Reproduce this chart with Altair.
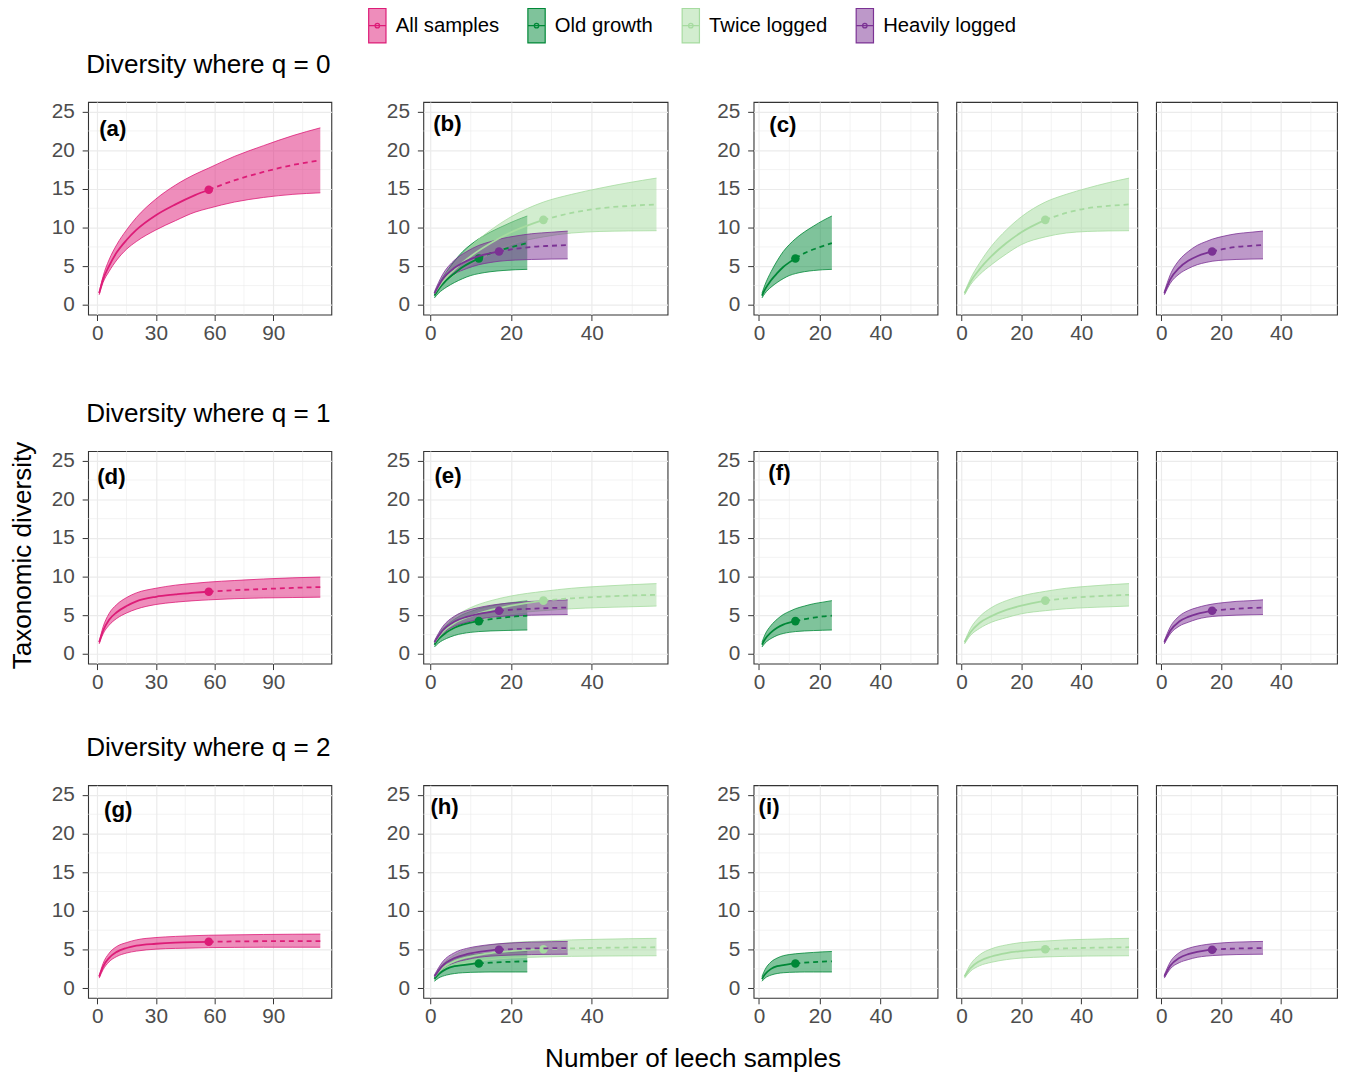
import altair as alt
import pandas as pd

FONT = "Liberation Sans"

GROUPS = ["All samples", "Old growth", "Twice logged", "Heavily logged"]
LINE_COLORS = ["#DD1C77", "#008837", "#A6DBA0", "#7B3294"]
FILL_COLORS = ["rgba(221,28,119,0.5)", "rgba(0,136,55,0.5)",
               "rgba(166,219,160,0.5)", "rgba(123,50,148,0.5)"]

ROW_TITLES = ["Diversity where q = 0", "Diversity where q = 1", "Diversity where q = 2"]
PANEL_LABELS = [["(a)", "(b)", "(c)"], ["(d)", "(e)", "(f)"], ["(g)", "(h)", "(i)"]]
LABEL_X = [[1.0, 0.7, 3.4], [0.0, 1.0, 3.1], [3.5, 0.0, -0.1]]
LABEL_Y = [[22.7, 23.4, 23.3], [22.9, 23.0, 23.4], [23.0, 23.4, 23.4]]

Y_DOMAIN = [-1.25, 26.25]
Y_TICKS = [0, 5, 10, 15, 20, 25]
Y_MINOR = [2.5, 7.5, 12.5, 17.5, 22.5]
X_DOMAIN_ALL = [-4.65, 119.65]
X_TICKS_ALL = [0, 30, 60, 90]
X_MINOR_ALL = [15, 45, 75, 105]
X_DOMAIN_HAB = [-1.75, 58.75]
X_TICKS_HAB = [0, 20, 40]
X_MINOR_HAB = [10, 30, 50]

# ---- All samples (observed at n = 57, extrapolated to 114)
ALL_N = 57
ALL_X = [1, 3, 6, 10, 15, 20, 30, 40, 50, 57, 70, 85, 100, 114]
ALL_Q0_MEAN = [1.5, 3.3, 5.0, 6.8, 8.4, 9.7, 11.6, 13.0, 14.2, 14.9, 16.1, 17.2, 18.1, 18.7]
ALL_Q0_HI = [1.6, 3.7, 5.8, 7.8, 9.7, 11.3, 13.7, 15.5, 16.9, 17.7, 19.2, 20.6, 21.9, 22.9]
ALL_Q0_LO = [1.3, 2.9, 4.3, 5.8, 7.2, 8.2, 9.7, 10.9, 12.0, 12.5, 13.3, 13.9, 14.3, 14.5]
ALL_Q1_MEAN = [1.5, 3.0, 4.4, 5.4, 6.2, 6.8, 7.4, 7.7, 7.95, 8.05, 8.25, 8.4, 8.55, 8.65]
ALL_Q1_HI = [1.6, 3.5, 5.2, 6.4, 7.3, 7.9, 8.5, 8.9, 9.15, 9.3, 9.5, 9.7, 9.85, 9.95]
ALL_Q1_LO = [1.3, 2.6, 3.7, 4.6, 5.3, 5.8, 6.4, 6.7, 6.9, 7.0, 7.15, 7.25, 7.3, 7.35]
ALL_Q2_MEAN = [1.5, 2.8, 3.9, 4.7, 5.2, 5.5, 5.75, 5.9, 5.97, 6.0, 6.05, 6.08, 6.1, 6.1]
ALL_Q2_HI = [1.6, 3.2, 4.5, 5.4, 5.9, 6.25, 6.55, 6.7, 6.8, 6.85, 6.9, 6.95, 6.98, 7.0]
ALL_Q2_LO = [1.3, 2.4, 3.4, 4.1, 4.55, 4.8, 5.05, 5.15, 5.2, 5.25, 5.28, 5.3, 5.3, 5.3]

# ---- Old growth (n = 12, to 24)
OG_N = 12
OG_X = [1, 2, 4, 6, 8, 10, 12, 15, 18, 21, 24]
OG_Q0_MEAN = [1.2, 2.0, 3.2, 4.1, 4.9, 5.5, 6.0, 6.7, 7.2, 7.6, 8.0]
OG_Q0_HI = [1.5, 2.6, 4.3, 5.7, 6.9, 7.8, 8.55, 9.45, 10.2, 10.9, 11.5]
OG_Q0_LO = [0.9, 1.5, 2.3, 2.9, 3.4, 3.8, 4.05, 4.3, 4.45, 4.55, 4.6]
OG_Q1_MEAN = [1.2, 1.9, 2.8, 3.4, 3.8, 4.05, 4.25, 4.5, 4.7, 4.85, 4.95]
OG_Q1_HI = [1.5, 2.5, 3.7, 4.5, 5.1, 5.5, 5.85, 6.2, 6.5, 6.7, 6.9]
OG_Q1_LO = [0.9, 1.4, 2.0, 2.4, 2.65, 2.8, 2.9, 2.98, 3.03, 3.07, 3.1]
OG_Q2_MEAN = [1.2, 1.8, 2.5, 2.85, 3.0, 3.12, 3.2, 3.3, 3.38, 3.44, 3.48]
OG_Q2_HI = [1.5, 2.4, 3.4, 3.9, 4.2, 4.35, 4.45, 4.55, 4.63, 4.7, 4.75]
OG_Q2_LO = [0.9, 1.3, 1.7, 1.9, 2.0, 2.05, 2.08, 2.1, 2.1, 2.1, 2.1]

# ---- Twice logged (n = 28, to 56)
TW_N = 28
TW_X = [1, 3, 6, 10, 15, 20, 28, 35, 42, 49, 56]
TW_Q0_MEAN = [1.5, 3.0, 4.6, 6.3, 8.0, 9.4, 11.0, 11.9, 12.5, 12.8, 13.0]
TW_Q0_HI = [1.6, 3.4, 5.4, 7.6, 9.7, 11.4, 13.3, 14.3, 15.1, 15.8, 16.4]
TW_Q0_LO = [1.3, 2.6, 3.9, 5.2, 6.6, 7.8, 8.8, 9.3, 9.5, 9.57, 9.6]
TW_Q1_MEAN = [1.5, 2.8, 4.0, 4.9, 5.7, 6.25, 6.9, 7.2, 7.4, 7.55, 7.65]
TW_Q1_HI = [1.6, 3.3, 4.8, 6.0, 6.9, 7.5, 8.1, 8.5, 8.75, 8.95, 9.1]
TW_Q1_LO = [1.3, 2.4, 3.3, 4.1, 4.7, 5.2, 5.6, 5.85, 6.0, 6.1, 6.2]
TW_Q2_MEAN = [1.5, 2.6, 3.5, 4.1, 4.55, 4.8, 5.05, 5.15, 5.22, 5.27, 5.3]
TW_Q2_HI = [1.6, 3.1, 4.3, 5.1, 5.6, 5.9, 6.1, 6.25, 6.33, 6.4, 6.45]
TW_Q2_LO = [1.3, 2.2, 2.9, 3.35, 3.7, 3.9, 4.05, 4.12, 4.16, 4.18, 4.2]

# ---- Heavily logged (n = 17, to 34)
HL_N = 17
HL_X = [1, 3, 6, 9, 12, 15, 17, 21, 25, 30, 34]
HL_Q0_MEAN = [1.5, 3.3, 4.8, 5.7, 6.3, 6.7, 6.9, 7.25, 7.5, 7.65, 7.75]
HL_Q0_HI = [1.7, 3.9, 5.8, 6.9, 7.7, 8.2, 8.5, 8.9, 9.2, 9.4, 9.55]
HL_Q0_LO = [1.3, 2.8, 4.0, 4.7, 5.2, 5.5, 5.65, 5.8, 5.88, 5.93, 5.95]
HL_Q1_MEAN = [1.5, 3.0, 4.2, 4.8, 5.2, 5.45, 5.6, 5.75, 5.85, 5.95, 6.0]
HL_Q1_HI = [1.7, 3.5, 4.9, 5.6, 6.0, 6.3, 6.45, 6.65, 6.8, 6.9, 7.0]
HL_Q1_LO = [1.3, 2.6, 3.6, 4.1, 4.5, 4.75, 4.85, 4.95, 5.02, 5.07, 5.1]
HL_Q2_MEAN = [1.5, 2.9, 3.9, 4.4, 4.7, 4.9, 4.98, 5.07, 5.13, 5.17, 5.2]
HL_Q2_HI = [1.7, 3.4, 4.6, 5.15, 5.45, 5.65, 5.75, 5.88, 5.96, 6.02, 6.05]
HL_Q2_LO = [1.3, 2.5, 3.3, 3.7, 4.0, 4.15, 4.22, 4.3, 4.35, 4.38, 4.4]

SERIES = {
    "All samples": (ALL_X, ALL_N, [(ALL_Q0_MEAN, ALL_Q0_LO, ALL_Q0_HI),
                                   (ALL_Q1_MEAN, ALL_Q1_LO, ALL_Q1_HI),
                                   (ALL_Q2_MEAN, ALL_Q2_LO, ALL_Q2_HI)]),
    "Old growth": (OG_X, OG_N, [(OG_Q0_MEAN, OG_Q0_LO, OG_Q0_HI),
                                (OG_Q1_MEAN, OG_Q1_LO, OG_Q1_HI),
                                (OG_Q2_MEAN, OG_Q2_LO, OG_Q2_HI)]),
    "Twice logged": (TW_X, TW_N, [(TW_Q0_MEAN, TW_Q0_LO, TW_Q0_HI),
                                  (TW_Q1_MEAN, TW_Q1_LO, TW_Q1_HI),
                                  (TW_Q2_MEAN, TW_Q2_LO, TW_Q2_HI)]),
    "Heavily logged": (HL_X, HL_N, [(HL_Q0_MEAN, HL_Q0_LO, HL_Q0_HI),
                                    (HL_Q1_MEAN, HL_Q1_LO, HL_Q1_HI),
                                    (HL_Q2_MEAN, HL_Q2_LO, HL_Q2_HI)]),
}

band_rows, line_rows, pt_rows = [], [], []
for g, (xs, n, qs) in SERIES.items():
    for q, (m, lo, hi) in enumerate(qs):
        for x, mv, l, h in zip(xs, m, lo, hi):
            band_rows.append(dict(group=g, q=q, x=x, lo=l, hi=h))
            if x <= n:
                line_rows.append(dict(group=g, q=q, x=x, mean=mv, part="int"))
            if x >= n:
                line_rows.append(dict(group=g, q=q, x=x, mean=mv, part="ext"))
            if x == n:
                pt_rows.append(dict(group=g, q=q, x=x, mean=mv))
BAND = pd.DataFrame(band_rows)
LINES = pd.DataFrame(line_rows)
POINTS = pd.DataFrame(pt_rows)

GRID = "#EBEBEB"
HEIGHT = 215
LEGEND_PATH = ("M-0.5,-1H0.5V1H-0.5Z M-0.5,0H0.5 "
               "M-0.13,0A0.13,0.13 0 1,1 0.13,0A0.13,0.13 0 1,1 -0.13,0Z")
LEGEND = alt.Legend(orient="none", legendX=274, legendY=-96, direction="horizontal",
                    columns=4, title=None, symbolType=LEGEND_PATH, symbolSize=1225,
                    symbolStrokeWidth=1.2, labelFont=FONT, labelFontSize=20.5,
                    labelColor="black", labelOffset=0, columnPadding=19, padding=0)
FILL_SCALE = alt.Scale(domain=GROUPS, range=FILL_COLORS)
STROKE_SCALE = alt.Scale(domain=GROUPS, range=LINE_COLORS)
COLOR_SCALE = alt.Scale(domain=GROUPS, range=LINE_COLORS)


def panel(q, groups, xdom, xticks, xminor, width, label, lx, ly, show_y):
    xsc = alt.Scale(domain=xdom, nice=False, zero=False)
    ysc = alt.Scale(domain=Y_DOMAIN, nice=False, zero=False)
    xax = alt.Axis(values=xticks, title=None, grid=True)
    yax = alt.Axis(values=Y_TICKS, title=None, grid=True, labels=show_y, ticks=show_y)

    def X(f):
        return alt.X(f, type="quantitative", scale=xsc, axis=xax)

    def Y(f):
        return alt.Y(f, type="quantitative", scale=ysc, axis=yax)

    layers = [
        alt.Chart(pd.DataFrame({"v": Y_MINOR})).mark_rule(color=GRID, strokeWidth=0.6).encode(y=Y("v")),
        alt.Chart(pd.DataFrame({"v": xminor})).mark_rule(color=GRID, strokeWidth=0.6).encode(x=X("v")),
    ]
    for g in groups:
        b = BAND[(BAND.q == q) & (BAND.group == g)]
        layers.append(alt.Chart(b).mark_area(interpolate="monotone").encode(
            x=X("x"), y=Y("lo"), y2="hi",
            fill=alt.Fill("group:N", scale=FILL_SCALE, legend=LEGEND)))
        for f in ["lo", "hi"]:
            layers.append(alt.Chart(b).mark_line(interpolate="monotone", strokeWidth=0.8).encode(
                x=X("x"), y=Y(f),
                stroke=alt.Stroke("group:N", scale=STROKE_SCALE, legend=LEGEND)))
    for g in groups:
        li = LINES[(LINES.q == q) & (LINES.group == g)]
        layers.append(alt.Chart(li[li.part == "int"]).mark_line(interpolate="monotone", strokeWidth=1.8).encode(
            x=X("x"), y=Y("mean"),
            stroke=alt.Stroke("group:N", scale=STROKE_SCALE, legend=LEGEND)))
        layers.append(alt.Chart(li[li.part == "ext"]).mark_line(interpolate="monotone", strokeWidth=1.8,
                                                               strokeDash=[5, 4]).encode(
            x=X("x"), y=Y("mean"),
            stroke=alt.Stroke("group:N", scale=STROKE_SCALE, legend=LEGEND)))
        p = POINTS[(POINTS.q == q) & (POINTS.group == g)]
        layers.append(alt.Chart(p).mark_circle(size=75, opacity=1).encode(
            x=X("x"), y=Y("mean"),
            color=alt.Color("group:N", scale=COLOR_SCALE, legend=None)))
    if label:
        layers.append(alt.Chart(pd.DataFrame({"a": [0]})).mark_text(
            text=label, font=FONT, fontSize=22.5, fontWeight="bold", color="black",
            align="left", baseline="middle").encode(x=alt.datum(lx), y=alt.datum(ly)))
    return alt.layer(*layers).properties(width=width, height=HEIGHT)


def row(q):
    a = panel(q, ["All samples"], X_DOMAIN_ALL, X_TICKS_ALL, X_MINOR_ALL, 246,
              PANEL_LABELS[q][0], LABEL_X[q][0], LABEL_Y[q][0], True)
    b = panel(q, ["Old growth", "Twice logged", "Heavily logged"], X_DOMAIN_HAB, X_TICKS_HAB,
              X_MINOR_HAB, 247, PANEL_LABELS[q][1], LABEL_X[q][1], LABEL_Y[q][1], True)
    c = panel(q, ["Old growth"], X_DOMAIN_HAB, X_TICKS_HAB, X_MINOR_HAB, 186,
              PANEL_LABELS[q][2], LABEL_X[q][2], LABEL_Y[q][2], True)
    t = panel(q, ["Twice logged"], X_DOMAIN_HAB, X_TICKS_HAB, X_MINOR_HAB, 183,
              None, 0, 0, False)
    h = panel(q, ["Heavily logged"], X_DOMAIN_HAB, X_TICKS_HAB, X_MINOR_HAB, 183,
              None, 0, 0, False)
    facet = alt.hconcat(c, t, h, spacing=16)
    return alt.hconcat(a, alt.hconcat(b, facet, spacing=48), spacing=54,
                       title=alt.TitleParams(ROW_TITLES[q], anchor="start", dx=36, offset=22))


inner = alt.vconcat(row(0), alt.vconcat(row(1), row(2), spacing=42), spacing=57,
                    title=alt.TitleParams("Taxonomic diversity", orient="left", anchor="middle",
                                          fontSize=26.4, offset=14, dx=-16))
chart = alt.vconcat(inner, title=alt.TitleParams("Number of leech samples", orient="bottom",
                                                 anchor="middle", fontSize=26.4, offset=19, dx=19)
                    ).properties(
    padding={"top": -7, "left": 2, "right": 0, "bottom": 0}
).configure_view(
    stroke="#333333", strokeWidth=1.1
).configure_axis(
    gridColor=GRID, gridWidth=1.2, domain=False, tickColor="#333333", tickSize=6,
    tickWidth=1, labelFont=FONT, labelFontSize=21, labelColor="#4D4D4D"
).configure_axisX(labelPadding=2).configure_axisY(labelPadding=8).configure_title(
    font=FONT, fontWeight="normal", color="black", fontSize=26.4
)

chart.save("out.html", embed_options={"renderer": "svg", "actions": False})
